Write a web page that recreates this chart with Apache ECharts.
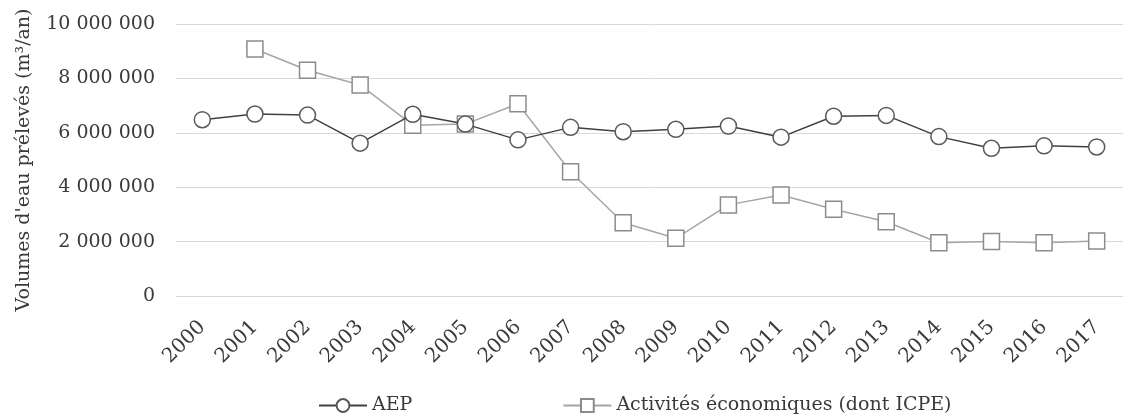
<!DOCTYPE html>
<html><head><meta charset="utf-8">
<script src="https://cdn.jsdelivr.net/npm/echarts@6/dist/echarts.min.js"></script>
<style>html,body{margin:0;padding:0;background:#fff}#c{width:1123px;height:416px}</style>
</head><body><div id="c"></div>
<script>
const years = ['2000','2001','2002','2003','2004','2005','2006','2007','2008','2009','2010','2011','2012','2013','2014','2015','2016','2017'];
const aep = [6480000,6690000,6650000,5620000,6680000,6320000,5740000,6200000,6040000,6130000,6250000,5840000,6610000,6640000,5860000,5430000,5520000,5480000];
const activites = [null,9080000,8300000,7760000,6280000,6320000,7070000,4570000,2690000,2120000,3350000,3710000,3190000,2730000,1960000,2000000,1960000,2020000];
const seriesNames = ['AEP','Activités économiques (dont ICPE)'];
const yTicks = {min:0,max:10000000,interval:2000000};
const yName = "Volumes d'eau prélevés (m³/an)";

const font = 'DejaVu Serif';
const txt = '#3a3a3a';
const chart = echarts.init(document.getElementById('c'), null, {renderer:'canvas'});
chart.setOption({
  animation:false,
  textStyle:{fontFamily:font,color:txt},
  grid:{left:176,right:-11,top:24,bottom:120},
  legend:{
    top:391,left:313,itemGap:150,itemWidth:48,itemHeight:16,
    textStyle:{fontFamily:font,fontSize:19,color:txt},
    data:seriesNames
  },
  xAxis:{
    type:'category',data:years,boundaryGap:true,
    axisLine:{show:true,lineStyle:{color:'#d9d9d9'}},
    axisTick:{show:false},
    axisLabel:{rotate:45,fontFamily:font,fontSize:20,color:txt,margin:28,interval:0}
  },
  yAxis:{
    type:'value',min:yTicks.min,max:yTicks.max,interval:yTicks.interval,
    name:yName,nameLocation:'middle',nameGap:142,nameRotate:90,
    nameTextStyle:{fontFamily:font,fontSize:19,color:txt},
    axisLine:{show:false},axisTick:{show:false},
    splitLine:{lineStyle:{color:'#d9d9d9',width:1}},
    axisLabel:{fontFamily:font,fontSize:19,color:txt,margin:21,
      formatter:v=>String(v).replace(/\B(?=(\d{3})+(?!\d))/g,' ')}
  },
  series:[
    {name:seriesNames[0],type:'line',data:aep,symbol:'circle',symbolSize:16,
     lineStyle:{color:'#404040',width:1.5},
     itemStyle:{color:'#fff',borderColor:'#595959',borderWidth:1.5},z:3},
    {name:seriesNames[1],type:'line',data:activites,symbol:'rect',symbolSize:16,connectNulls:false,
     lineStyle:{color:'#a6a6a6',width:1.5},
     itemStyle:{color:'#fff',borderColor:'#8c8c8c',borderWidth:1.5},z:2}
  ]
});
</script></body></html>
